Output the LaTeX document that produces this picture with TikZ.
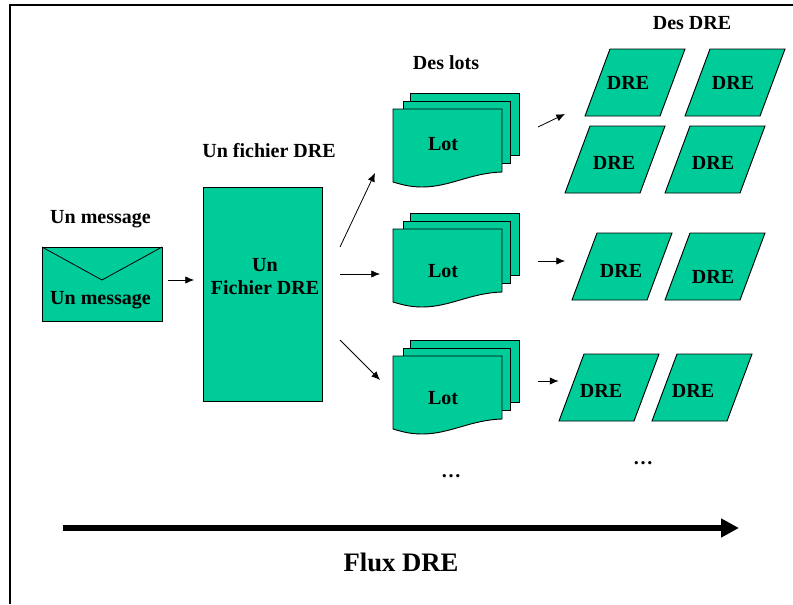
\documentclass[tikz,border=0pt]{standalone}
\usepackage{fontspec}
\setmainfont{Liberation Serif}
\usetikzlibrary{arrows.meta}
\definecolor{dregreen}{RGB}{0,204,153}
\tikzset{
  x=0.75pt,y=-0.75pt,
  shapeline/.style={draw=black,fill=dregreen,line width=0.7pt,line join=miter},
  txt/.style={font=\bfseries\fontsize{15}{17.25}\selectfont,text=black,inner sep=0pt,align=center,anchor=base},
  flow/.style={draw=black,line width=0.6pt,-{Latex[length=6.5pt,width=5.5pt]}},
}
\newcommand{\dredoc}[3]{% name, dy, label baseline
  \begin{scope}[yshift=-#2*0.75pt]
    \path[shapeline] (410,93) -- (519,93) -- (519,155) -- (480,155) -- (480,120) -- (410,120) -- cycle;
    \path[shapeline] (403,101) -- (510,101) -- (510,163) -- (480,163) -- (480,125) -- (403,125) -- cycle;
    \path[shapeline] (393,109) -- (502,109) -- (502,172) .. controls (470,173) and (450,187) .. (422,187) .. controls (411,187) and (403,185) .. (393,182) -- cycle;
  \end{scope}
  \node[txt] (#1) at (443,#3) {Lot};
}
\newcommand{\drepara}[5]{% name, x of bottom-left, y top, label x, label baseline
  \path[shapeline] (#2+25,#3) -- (#2+100,#3) -- (#2+75,#3+67) -- (#2,#3+67) -- cycle;
  \node[txt] (#1) at (#4,#5) {DRE};
}
\begin{document}
\begin{tikzpicture}
\useasboundingbox (0,0) rectangle (793,604);
\fill[white] (0,0) rectangle (793,604);
\draw[line width=1.5pt,line cap=butt] (10,604) -- (10,5) -- (793,5);

\node[txt] (tmsg) at (100.5,223) {Un message};
\node[txt] (tfic) at (269,157) {Un fichier DRE};
\node[txt] (tlots) at (446,69) {Des lots};
\node[txt] (tdre) at (692,29) {Des DRE};

% envelope
\path[shapeline] (42,247) rectangle (162,321);
\draw[line width=0.6pt] (42,247) -- (102,280) -- (162,247);
\node[txt] (env) at (100.5,304) {Un message};

% file
\node[shapeline,minimum width=89.25pt,minimum height=160.5pt,inner sep=0pt,anchor=north west] (file) at (203,186.5) {};
\node[txt,anchor=center] (filetxt) at (265,277) {Un\\Fichier DRE};

% lots
\dredoc{lotA}{0}{150}
\dredoc{lotB}{120}{277}
\dredoc{lotC}{247}{404}

% DRE
\drepara{d1}{585}{49}{628}{89}
\drepara{d2}{685}{49}{733}{89}
\drepara{d3}{565}{126}{614}{169}
\drepara{d4}{665}{126}{713}{169}
\drepara{d5}{572}{233}{621}{277}
\drepara{d6}{665}{233}{713}{283}
\drepara{d7}{559}{354}{601}{397}
\drepara{d8}{652}{354}{693}{397}

\node[txt] (dots1) at (451,477) {…};
\node[txt] (dots2) at (643,464) {…};

% connectors
\coordinate (a0) at (168,280); \coordinate (a1) at (194,280);
\draw[flow] (a0) -- (a1);
\coordinate (b0) at (340,247); \coordinate (b1) at (375,173);
\coordinate (c0) at (340,274); \coordinate (c1) at (380,274);
\coordinate (e0) at (340,340); \coordinate (e1) at (380,380);
\draw[flow] (b0) -- (b1);
\draw[flow] (c0) -- (c1);
\draw[flow] (e0) -- (e1);
\coordinate (f0) at (538,127); \coordinate (f1) at (565,114);
\coordinate (g0) at (538,261); \coordinate (g1) at (565,261);
\coordinate (h0) at (538,381); \coordinate (h1) at (558.5,381);
\draw[flow] (f0) -- (f1);
\draw[flow] (g0) -- (g1);
\draw[flow] (h0) -- (h1);

\coordinate (big0) at (63,528); \coordinate (big1) at (739,528);
\draw[draw=black,line width=4.5pt,-{Triangle[length=13.5pt,width=13.5pt]}] (big0) -- (big1);
\node[txt,font=\bfseries\fontsize{20}{22}\selectfont] (flux) at (401,571) {Flux DRE};
\end{tikzpicture}
\end{document}
